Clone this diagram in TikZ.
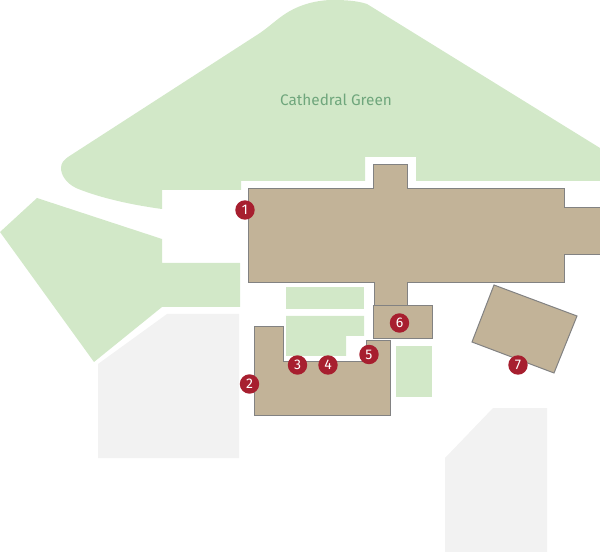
\documentclass[tikz,border=0pt]{standalone}
\usepackage{fontspec}
\setmainfont{Fira Sans}
\definecolor{lawn}{HTML}{D2E8C8}
\definecolor{tan}{HTML}{C2B398}
\definecolor{pave}{HTML}{F2F2F2}
\definecolor{edge}{HTML}{828282}
\definecolor{pin}{HTML}{A71F2F}
\definecolor{lawntext}{HTML}{6FA67C}
\tikzset{
  lawnarea/.style={fill=lawn,draw=none},
  pavearea/.style={fill=pave,draw=none},
  bldg/.style={fill=tan,draw=edge,line width=0.75pt,line join=miter},
  marker/.style={circle,fill=pin,draw=none,minimum size=14.6pt,inner sep=0pt,text=white,font=\fontsize{10.5pt}{11pt}\selectfont},
  maplabel/.style={text=lawntext,font=\fontsize{11.5pt}{13pt}\selectfont}
}
\begin{document}
\begin{tikzpicture}[x=0.75pt,y=-0.75pt]
\useasboundingbox (0,0) rectangle (600,552);
% lawns
\path[lawnarea] (260,33) .. controls (270,26) and (276,20) .. (285,14) .. controls (300,4) and (318,0) .. (333,0)
  .. controls (347,0) and (358,1) .. (367,4) -- (600,148) -- (600,181) -- (416,181) -- (416,157) -- (365,157) -- (365,181)
  -- (241,181) -- (241,190) -- (162,190) -- (162,209)
  .. controls (125,204) and (95,196) .. (76,188) .. controls (66,183) and (61,175) .. (61,168) .. controls (61,163) and (64,160) .. (68,157) -- cycle;
\path[lawnarea] (37,198) -- (162,239) -- (162,263) -- (240,263) -- (240,307) -- (162,307) -- (94,362) -- (0,232) -- cycle;
\path[lawnarea] (286,287) rectangle (364,309);
\path[lawnarea] (286,316) -- (364,316) -- (364,336) -- (346,336) -- (346,356) -- (286,356) -- cycle;
\path[lawnarea] (396,346) rectangle (432,397);
% paved
\path[pavearea] (167,314) -- (239,314) -- (239,458) -- (98,458) -- (98,364) -- cycle;
\path[pavearea] (445,458) -- (493,408) -- (547,408) -- (547,552) -- (445,552) -- cycle;
% buildings
\draw[bldg] (248,189) -- (373.5,189) -- (373.5,165) -- (407,165) -- (407,189) -- (564,189) -- (564,208) -- (600,208)
  -- (600,255) -- (564,255) -- (564,283) -- (407,283) -- (407,306) -- (374.5,306) -- (374.5,283) -- (248,283) -- cycle;
\draw[bldg] (254,326.5) -- (283.5,326.5) -- (283.5,362) -- (366,362) -- (366,341) -- (390,341) -- (390,415) -- (254,415) -- cycle;
\draw[bldg] (373.5,306) -- (432,306) -- (432,339) -- (373.5,339) -- cycle;
\draw[bldg] (494,285) -- (577,316) -- (554,373) -- (472,342) -- cycle;
% label
\node[maplabel] (green) at (336,100) {Cathedral Green};
% markers
\node[marker] (m1) at (245,210) {1};
\node[marker] (m2) at (249.5,384) {2};
\node[marker] (m3) at (297.5,365) {3};
\node[marker] (m4) at (328,365) {4};
\node[marker] (m5) at (369,354.5) {5};
\node[marker] (m6) at (399.5,323) {6};
\node[marker] (m7) at (518,365) {7};
\end{tikzpicture}
\end{document}
